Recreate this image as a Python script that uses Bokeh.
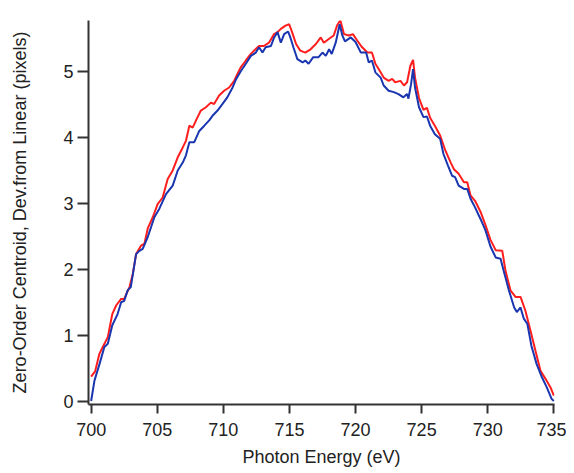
from bokeh.plotting import figure
from bokeh.models import Range1d, FixedTicker
from bokeh.embed import file_html
from bokeh.resources import INLINE

# Photon energy (eV) and centroid deviation (pixels) -- red series
red_x = [700.0, 700.3, 700.63, 700.88, 701.26, 701.6, 701.89, 702.27, 702.5, 702.9,
         703.15, 703.4, 703.78, 704.03, 704.28, 704.66, 705.03, 705.41, 705.79, 706.17,
         706.55, 706.93, 707.17, 707.43, 707.68, 708.05, 708.3, 708.68, 709.06, 709.3,
         709.68, 710.06, 710.44, 710.82, 711.0, 711.33, 711.7, 712.08, 712.33, 712.7,
         713.07, 713.45, 713.84, 714.1, 714.35, 714.7, 714.98, 715.2, 715.5, 715.82,
         716.2, 716.6, 717.0, 717.37, 717.6, 718.0, 718.35, 718.6, 718.85, 719.13,
         719.5, 719.8, 720.14, 720.5, 720.9, 721.24, 721.5, 721.75, 722.13, 722.5,
         722.77, 723.0, 723.4, 723.66, 723.9, 724.15, 724.35, 724.5, 724.8, 725.14,
         725.4, 725.64, 726.0, 726.4, 726.8, 727.2, 727.44, 727.8, 728.2, 728.45,
         728.7, 729.04, 729.46, 729.83, 730.2, 730.6, 731.1, 731.34, 731.72, 732.1,
         732.48, 732.85, 733.23, 733.6, 733.99, 734.36, 734.74, 735.0]
red_y = [0.37, 0.45, 0.72, 0.82, 0.97, 1.32, 1.45, 1.55, 1.55, 1.73,
         1.93, 2.23, 2.36, 2.39, 2.62, 2.79, 2.99, 3.09, 3.37, 3.50,
         3.70, 3.85, 3.95, 4.18, 4.15, 4.31, 4.41, 4.46, 4.53, 4.51,
         4.64, 4.71, 4.76, 4.86, 4.94, 5.07, 5.17, 5.27, 5.32, 5.39,
         5.39, 5.44, 5.57, 5.60, 5.65, 5.70, 5.72, 5.60, 5.42, 5.32,
         5.29, 5.34, 5.42, 5.52, 5.44, 5.50, 5.55, 5.70, 5.78, 5.57,
         5.55, 5.57, 5.47, 5.37, 5.29, 5.29, 5.12, 5.04, 4.91, 4.86,
         4.89, 4.84, 4.86, 4.79, 4.84, 5.09, 5.18, 4.91, 4.60, 4.42,
         4.45, 4.30, 4.18, 4.03, 3.80, 3.62, 3.52, 3.45, 3.32, 3.32,
         3.12, 3.04, 2.87, 2.67, 2.45, 2.29, 2.28, 1.98, 1.68, 1.58,
         1.58, 1.37, 1.07, 0.77, 0.46, 0.34, 0.21, 0.08]

# blue series
blue_x = [700.0, 700.25, 700.63, 701.0, 701.26, 701.6, 702.0, 702.27, 702.5, 702.76,
          703.0, 703.4, 703.65, 703.9, 704.28, 704.5, 704.78, 705.16, 705.66, 706.17,
          706.55, 706.93, 707.17, 707.43, 707.8, 708.18, 708.56, 708.93, 709.18, 709.56,
          709.94, 710.3, 710.7, 710.95, 711.33, 711.7, 712.08, 712.46, 712.7, 712.96,
          713.2, 713.6, 713.84, 714.1, 714.35, 714.6, 714.9, 715.07, 715.3, 715.6,
          716.0, 716.2, 716.45, 716.8, 717.2, 717.5, 717.75, 718.0, 718.2, 718.5,
          718.8, 719.0, 719.2, 719.64, 720.0, 720.4, 720.8, 721.0, 721.24, 721.5,
          721.9, 722.13, 722.5, 722.9, 723.25, 723.62, 723.9, 724.0, 724.2, 724.35,
          724.5, 724.8, 725.14, 725.4, 725.64, 726.0, 726.4, 726.65, 727.0, 727.3,
          727.53, 727.8, 728.2, 728.45, 728.7, 729.04, 729.46, 729.83, 730.2, 730.6,
          730.97, 731.2, 731.6, 732.0, 732.2, 732.48, 732.73, 733.0, 733.3, 733.7,
          734.1, 734.46, 734.84, 735.0]
blue_y = [0.00, 0.31, 0.56, 0.82, 0.87, 1.15, 1.32, 1.50, 1.52, 1.68,
          1.73, 2.23, 2.28, 2.31, 2.49, 2.62, 2.79, 2.92, 3.14, 3.27,
          3.50, 3.62, 3.73, 3.93, 3.93, 4.10, 4.18, 4.26, 4.33, 4.41,
          4.51, 4.61, 4.76, 4.88, 5.01, 5.12, 5.24, 5.29, 5.37, 5.29,
          5.37, 5.39, 5.52, 5.60, 5.44, 5.57, 5.61, 5.52, 5.37, 5.19,
          5.14, 5.17, 5.12, 5.22, 5.22, 5.29, 5.24, 5.34, 5.27, 5.44,
          5.72, 5.55, 5.46, 5.52, 5.45, 5.29, 5.29, 5.14, 5.17, 4.99,
          4.91, 4.79, 4.71, 4.69, 4.66, 4.61, 4.66, 4.59, 4.81, 5.04,
          4.76, 4.46, 4.31, 4.32, 4.18, 4.05, 3.98, 3.75, 3.57, 3.42,
          3.40, 3.27, 3.22, 3.22, 3.07, 2.94, 2.76, 2.59, 2.35, 2.18,
          2.16, 1.98, 1.68, 1.42, 1.35, 1.42, 1.25, 1.17, 0.84, 0.56,
          0.36, 0.21, 0.03, 0.00]

x_ticks = [700, 705, 710, 715, 720, 725, 730, 735]
y_ticks = [0, 1, 2, 3, 4, 5]

p = figure(width=566, height=473, output_backend="svg", toolbar_location=None,
           x_range=Range1d(699.8, 735.05), y_range=Range1d(-0.053, 5.777),
           min_border_left=88, min_border_right=12, min_border_top=20, min_border_bottom=69)
p.outline_line_color = None
p.xgrid.visible = False
p.ygrid.visible = False
p.background_fill_color = "white"
p.border_fill_color = "white"

p.line(red_x, red_y, line_color="#ff1e1e", line_width=2)
p.line(blue_x, blue_y, line_color="#1a35b0", line_width=2)

for ax in (p.xaxis[0], p.yaxis[0]):
    ax.axis_line_color = "#333333"
    ax.axis_line_width = 2
    ax.major_tick_line_color = "#333333"
    ax.major_tick_line_width = 2
    ax.major_tick_in = 0
    ax.minor_tick_line_color = None
    ax.major_label_text_font = "Liberation Sans"
    ax.major_label_text_font_size = "18px"
    ax.major_label_text_color = "#222222"
    ax.axis_label_text_font = "Liberation Sans"
    ax.axis_label_text_font_size = "18px"
    ax.axis_label_text_font_style = "normal"
    ax.axis_label_text_color = "#222222"

p.xaxis[0].ticker = FixedTicker(ticks=x_ticks)
p.yaxis[0].ticker = FixedTicker(ticks=y_ticks)
p.xaxis[0].major_tick_out = 9
p.yaxis[0].major_tick_out = 11
p.xaxis[0].major_label_standoff = 9
p.yaxis[0].major_label_standoff = 4
p.xaxis[0].axis_label = "Photon Energy (eV)"
p.yaxis[0].axis_label = "Zero-Order Centroid, Dev.from Linear (pixels)"
p.xaxis[0].axis_label_standoff = 8
p.yaxis[0].axis_label_standoff = 30

open("out.html", "w").write(file_html(p, INLINE))
